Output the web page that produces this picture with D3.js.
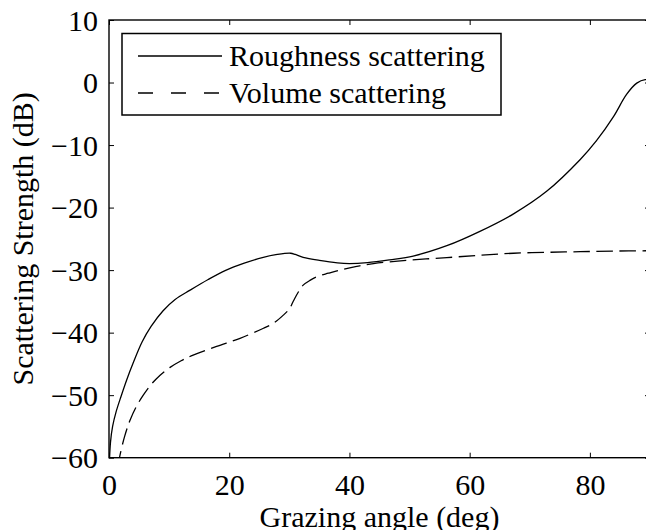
<!DOCTYPE html>
<html>
<head>
<meta charset="utf-8">
<script src="https://cdn.jsdelivr.net/npm/d3@7"></script>
<style>
  body { margin: 0; background: #fff; overflow: hidden; }
  text { font-family: "Liberation Serif", "Times New Roman", serif; font-size: 30px; fill: #000; }
</style>
</head>
<body>
<script>
// series values: [grazing angle (deg), dB]
const roughness = [[0.02,-62],[0.25,-57.5],[0.6,-55],[1.2,-52.6],[2,-50.2],[3,-47.4],[4,-44.9],
  [5.5,-41.5],[7,-39.0],[9,-36.5],[11,-34.7],[13.5,-33.2],[16.5,-31.5],[19.5,-30.0],
  [22.5,-28.9],[25.5,-28.0],[28,-27.5],[30.2,-27.3],[31,-27.5],[32.3,-27.95],[35,-28.45],
  [38,-28.85],[40,-28.95],[43,-28.8],[46.7,-28.35],[50.6,-27.75],[56.2,-26.1],[61.7,-23.8],
  [67.3,-21.0],[72.8,-17.4],[78.4,-12.3],[81.1,-9.3],[83.9,-5.5],[86.1,-1.9],[87.8,-0.1],
  [89.2,0.45],[90,0.35]];

const volume = [[1.5,-61.5],[1.83,-59.6],[2.6,-56.6],[3.5,-54],[4.5,-51.9],[5.7,-50],[7,-48.3],
  [8.5,-46.8],[10.1,-45.6],[12,-44.5],[14,-43.6],[17.9,-42.2],[21.8,-40.9],[25.7,-39.3],
  [27.5,-38.4],[29,-37.2],[30,-36.2],[30.7,-34.9],[31.5,-33.5],[32.3,-32.4],[33.5,-31.6],
  [34.6,-31.05],[36.5,-30.5],[38.4,-30.0],[41,-29.45],[44,-28.95],[50,-28.4],[56.2,-28.0],
  [62,-27.6],[67.3,-27.3],[73,-27.15],[78.4,-27.05],[84,-26.95],[90,-26.9]];

const xTicks = [0, 20, 40, 60, 80];
const yTicks = [10, 0, -10, -20, -30, -40, -50, -60];
const legendNames = ["Roughness scattering", "Volume scattering"];

const w = 646, h = 530;
const m = {left: 109, right: 650, top: 20, bottom: 457.7};

const x = d3.scaleLinear().domain([0, 90]).range([m.left, m.right]);
const y = d3.scaleLinear().domain([-60, 10]).range([m.bottom, m.top]);

const svg = d3.select("body").append("svg")
  .attr("width", w)
  .attr("height", h);

svg.append("defs").append("clipPath").attr("id", "plot")
  .append("rect")
  .attr("x", m.left).attr("y", m.top)
  .attr("width", m.right - m.left).attr("height", m.bottom - m.top);

const fmt = d => d < 0 ? "\u2212" + Math.abs(d) : String(d);

// axes, ticks point inwards like matlab
const xAxis = svg.append("g")
  .attr("transform", `translate(0,${m.bottom})`)
  .call(d3.axisBottom(x).tickValues(xTicks).tickSizeInner(-5).tickSizeOuter(0).tickFormat(fmt));
const xTop = svg.append("g")
  .attr("transform", `translate(0,${m.top})`)
  .call(d3.axisTop(x).tickValues(xTicks).tickSizeInner(-5).tickSizeOuter(0).tickFormat(""));
const yAxis = svg.append("g")
  .attr("transform", `translate(${m.left},0)`)
  .call(d3.axisLeft(y).tickValues(yTicks).tickSizeInner(-5).tickSizeOuter(0).tickFormat(fmt));
const yRight = svg.append("g")
  .attr("transform", `translate(${m.right},0)`)
  .call(d3.axisRight(y).tickValues(yTicks).tickSizeInner(-5).tickSizeOuter(0).tickFormat(""));

[xAxis, xTop, yAxis, yRight].forEach(g => {
  g.select(".domain").remove();
  g.selectAll("line").attr("stroke", "#000").attr("stroke-width", 1);
  g.attr("font-size", null).attr("font-family", null);
});

xAxis.selectAll("text")
  .attr("y", null).attr("dy", null)
  .attr("transform", "translate(0,37)");
yAxis.selectAll("text")
  .attr("x", -11).attr("dy", "0.34em");

// frame
svg.append("rect")
  .attr("x", m.left).attr("y", m.top)
  .attr("width", m.right - m.left).attr("height", m.bottom - m.top)
  .attr("fill", "none")
  .attr("stroke", "#000")
  .attr("stroke-width", 1.4);

const line = d3.line()
  .x(d => x(d[0]))
  .y(d => y(d[1]))
  .curve(d3.curveCatmullRom.alpha(0.5));

const curves = svg.append("g").attr("clip-path", "url(#plot)");
curves.append("path")
  .datum(roughness)
  .attr("d", line)
  .attr("fill", "none")
  .attr("stroke", "#000")
  .attr("stroke-width", 1.3);
curves.append("path")
  .datum(volume)
  .attr("d", line)
  .attr("fill", "none")
  .attr("stroke", "#000")
  .attr("stroke-width", 1.3)
  .attr("stroke-dasharray", "16.5,6.5");

// axis titles
svg.append("text")
  .attr("x", (m.left + m.right) / 2)
  .attr("y", 527)
  .attr("text-anchor", "middle")
  .text("Grazing angle (deg)");
svg.append("text")
  .attr("transform", `translate(33,${(m.top + m.bottom) / 2}) rotate(-90)`)
  .attr("text-anchor", "middle")
  .text("Scattering Strength (dB)");

// legend
const legend = svg.append("g");
legend.append("rect")
  .attr("x", 122).attr("y", 33.5)
  .attr("width", 379).attr("height", 81.5)
  .attr("fill", "#fff")
  .attr("stroke", "#000")
  .attr("stroke-width", 1.5);

const rows = legend.selectAll("g.row")
  .data(legendNames)
  .enter()
  .append("g")
  .attr("class", "row")
  .attr("transform", (d, i) => `translate(0,${56 + i * 37})`);
rows.append("line")
  .attr("x1", 138).attr("x2", 222)
  .attr("stroke", "#000")
  .attr("stroke-width", 1.3)
  .attr("stroke-dasharray", (d, i) => i ? "15,18" : null);
rows.append("text")
  .attr("x", 229)
  .attr("dy", "0.34em")
  .text(d => d);
</script>
</body>
</html>
